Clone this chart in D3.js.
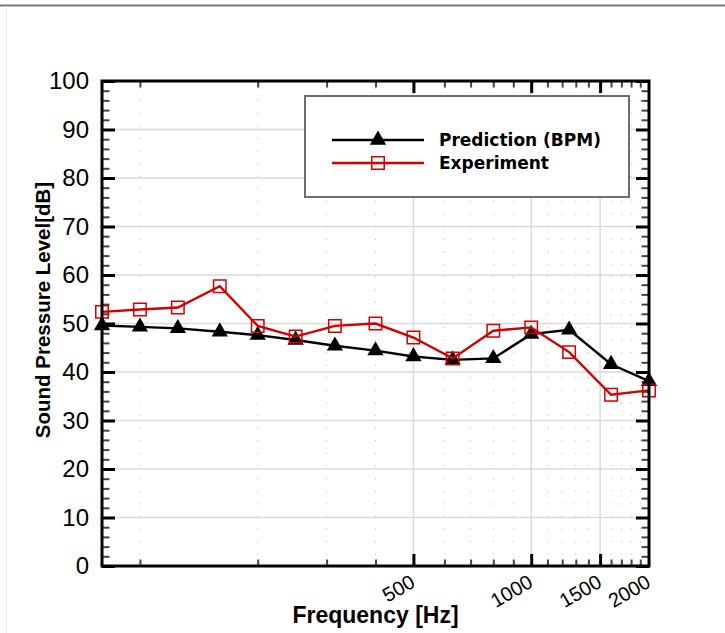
<!DOCTYPE html>
<html>
<head>
<meta charset="utf-8">
<script src="https://cdn.jsdelivr.net/npm/d3@7"></script>
<style>
  body { margin: 0; background: #fff; }
  text { font-family: "Liberation Sans", Arial, sans-serif; }
</style>
</head>
<body>
<script>
// 1/3 octave band centres [Hz]
const freq = [80, 100, 125, 160, 200, 250, 315, 400, 500, 630, 800, 1000, 1250, 1600, 2000]
const prediction = [49.6, 49.3, 49.0, 48.3, 47.6, 46.6, 45.4, 44.4, 43.2, 42.5, 42.8, 47.8, 48.7, 41.6, 38.1]
const experiment = [52.4, 52.9, 53.3, 57.7, 49.5, 47.3, 49.5, 50.0, 47.1, 42.8, 48.5, 49.2, 44.1, 35.3, 36.2]
const seriesNames = ['Prediction (BPM)', 'Experiment']

const xMajor = [500, 1000, 1500]
const xLabels = [500, 1000, 1500, 2000]
const xMinor = [100, 200, 300, 400, 600, 700, 800, 900, 1100, 1200, 1300, 1400, 1600, 1700, 1800, 1900]
const yMajor = d3.range(0, 101, 10)
const yMinor = d3.range(0, 101, 2).filter(d => d % 10 !== 0)

const W = 725, H = 633
const margin = { top: 81, right: 76, bottom: 67, left: 102 }
const width = W - margin.left - margin.right
const height = H - margin.top - margin.bottom

const x = d3.scaleLog().domain([80, 2000]).range([0, width])
const y = d3.scaleLinear().domain([0, 100]).range([height, 0])

const root = d3.select('body').append('svg')
  .attr('width', W)
  .attr('height', H)

// page frame
root.append('line')
  .attr('x1', 0).attr('x2', W).attr('y1', 5.5).attr('y2', 5.5)
  .attr('stroke', '#7a7a7a').attr('stroke-width', 2)
root.append('line')
  .attr('x1', 6.5).attr('x2', 6.5).attr('y1', 6).attr('y2', H)
  .attr('stroke', '#ececec').attr('stroke-width', 1)

const svg = root.append('g')
  .attr('transform', `translate(${margin.left}, ${margin.top})`)

// grid
svg.selectAll('.hgrid')
  .data(yMajor.filter(d => d > 0 && d < 100))
  .enter().append('line')
  .attr('class', 'hgrid')
  .attr('x1', 0).attr('x2', width)
  .attr('y1', d => y(d)).attr('y2', d => y(d))
  .attr('stroke', '#dadada').attr('stroke-width', 1.5)

svg.selectAll('.vgrid')
  .data(xMajor)
  .enter().append('line')
  .attr('class', 'vgrid')
  .attr('x1', d => x(d)).attr('x2', d => x(d))
  .attr('y1', 0).attr('y2', height)
  .attr('stroke', '#dadada').attr('stroke-width', 1.5)

svg.selectAll('.vdots')
  .data(xMinor)
  .enter().append('line')
  .attr('class', 'vdots')
  .attr('x1', d => x(d)).attr('x2', d => x(d))
  .attr('y1', 0).attr('y2', height)
  .attr('stroke', '#c4c4c4').attr('stroke-width', 1)
  .attr('stroke-dasharray', '1.3,11.3')
  .attr('stroke-dashoffset', -19)

// inward ticks on all four sides, built from d3 axes
const tickAxis = (axis, tx, ty, vals, size, sw, col) => {
  const g = svg.append('g')
    .attr('transform', `translate(${tx}, ${ty})`)
    .call(axis.tickValues(vals).tickSize(size).tickFormat(''))
  g.select('.domain').remove()
  g.selectAll('line').attr('stroke', col).attr('stroke-width', sw)
}
tickAxis(d3.axisRight(y), 0, 0, yMajor, 13, 3, '#000')
tickAxis(d3.axisRight(y), 0, 0, yMinor, 7.5, 2, '#444')
tickAxis(d3.axisLeft(y), width, 0, yMajor, 13, 3, '#000')
tickAxis(d3.axisLeft(y), width, 0, yMinor, 7.5, 2, '#444')
tickAxis(d3.axisTop(x), 0, height, xMajor, 12, 3, '#000')
tickAxis(d3.axisTop(x), 0, height, xMinor, 6.5, 2, '#444')
tickAxis(d3.axisBottom(x), 0, 0, xMajor, 12, 3, '#000')
tickAxis(d3.axisBottom(x), 0, 0, xMinor, 6.5, 2, '#444')

// tick labels
const yLab = svg.append('g')
  .call(d3.axisLeft(y).tickValues(yMajor).tickSize(0).tickPadding(13))
yLab.select('.domain').remove()
yLab.selectAll('text')
  .attr('font-size', 24).attr('fill', '#000')
  .style('font-family', '"Liberation Sans", Arial, sans-serif')

svg.selectAll('.xlab')
  .data(xLabels)
  .enter().append('text')
  .attr('class', 'xlab')
  .attr('transform', d => `translate(${x(d) + 3}, ${height + 20}) rotate(-30)`)
  .attr('text-anchor', 'end')
  .attr('font-size', 20)
  .text(d => d)

// series
const series = [
  { name: seriesNames[0], vals: prediction, color: '#000', sym: d3.symbolTriangle, size: 115, fill: '#000' },
  { name: seriesNames[1], vals: experiment, color: '#d20000', sym: d3.symbolSquare, size: 155, fill: 'none' }
]

const line = d3.line()
  .x(d => x(d.f))
  .y(d => y(d.v))

series.forEach(s => {
  const pts = freq.map((f, i) => ({ f: f, v: s.vals[i] }))
  svg.append('path')
    .datum(pts)
    .attr('d', line)
    .attr('fill', 'none')
    .attr('stroke', s.color)
    .attr('stroke-width', 2.4)
  svg.selectAll(null)
    .data(pts)
    .enter().append('path')
    .attr('transform', d => `translate(${x(d.f)}, ${y(d.v)})`)
    .attr('d', d3.symbol(s.sym, s.size))
    .attr('fill', s.fill)
    .attr('stroke', s.fill === 'none' ? s.color : 'none')
    .attr('stroke-width', 1.5)
})

// plot frame
svg.append('rect')
  .attr('width', width).attr('height', height)
  .attr('fill', 'none').attr('stroke', '#000').attr('stroke-width', 3)

// legend
const leg = root.append('g').attr('transform', 'translate(305, 96)')
leg.append('rect')
  .attr('width', 324).attr('height', 101)
  .attr('fill', '#fff').attr('stroke', '#6e6e6e').attr('stroke-width', 2)
series.forEach((s, i) => {
  const ly = 44 + i * 23
  leg.append('line')
    .attr('x1', 27).attr('x2', 119).attr('y1', ly).attr('y2', ly)
    .attr('stroke', s.color).attr('stroke-width', 2.4)
  leg.append('path')
    .attr('transform', `translate(73, ${ly})`)
    .attr('d', d3.symbol(s.sym, s.size))
    .attr('fill', s.fill)
    .attr('stroke', s.fill === 'none' ? s.color : 'none')
    .attr('stroke-width', 1.5)
  leg.append('text')
    .attr('x', 134).attr('y', ly + 6)
    .attr('font-size', 17)
    .attr('font-weight', 'bold')
    .style('font-family', '"DejaVu Sans", sans-serif')
    .text(s.name)
})

// axis titles
root.append('text')
  .attr('x', margin.left + width / 2).attr('y', 623)
  .attr('text-anchor', 'middle')
  .attr('font-size', 23).attr('font-weight', 'bold')
  .text('Frequency [Hz]')

root.append('text')
  .attr('transform', 'translate(50, 310) rotate(-90)')
  .attr('text-anchor', 'middle')
  .attr('font-size', 20.5).attr('font-weight', 'bold')
  .text('Sound Pressure Level[dB]')
</script>
</body>
</html>
